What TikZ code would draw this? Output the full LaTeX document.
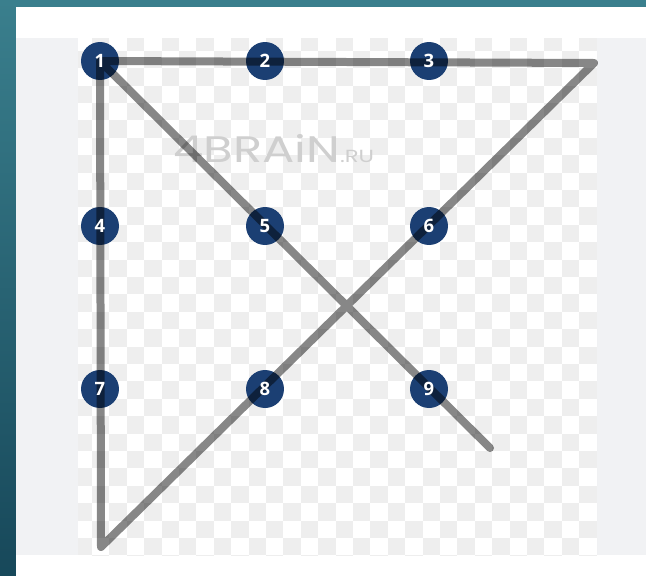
\documentclass[tikz,border=0pt]{standalone}
\usepackage{fontspec}
\setsansfont{Open Sans}
\newfontfamily\wmfont{Poppins}
\definecolor{tealtop}{HTML}{3A7F8D}
\definecolor{tealbot}{HTML}{17485A}
\definecolor{panel}{HTML}{F1F2F4}
\definecolor{check}{HTML}{EEEEEE}
\definecolor{dotblue}{HTML}{1B3F73}
\definecolor{wmgray}{HTML}{CFCFCF}
\tikzset{
  disc/.style={circle, fill=dotblue, minimum size=0.76cm, inner sep=0pt},
  digit/.style={inner sep=0pt, text=white, font=\sffamily\bfseries\fontsize{10.5}{12}\selectfont},
  stroke/.style={line width=0.16cm, draw opacity=0.47, line cap=round, line join=round}
}

\begin{document}
\begin{tikzpicture}[x=0.02cm,y=-0.02cm]

  \useasboundingbox (0,0) rectangle (646,575);
  \shade[top color=tealtop, bottom color=tealbot] (0,0) rectangle (646,575);
  \fill[white] (16,7) rectangle (647,576);
  \fill[panel] (16,38) rectangle (647,555);
  \fill[white] (78,38) rectangle (597,555);

  % checker background
  \begin{scope}
    \clip (78,38) rectangle (597,555);
    \foreach \i in {-22,...,8}
      \foreach \j in {-25,...,5} {
        \pgfmathtruncatemacro\s{\i+\j}
        \ifodd\s\else
          \fill[check] (457.3+17.4*\i,468.3+17.4*\j) rectangle ++(17.4,17.4);
        \fi
      }
  \end{scope}

  \node[anchor=base west, inner sep=0pt, text=wmgray, xscale=1.3,
    font=\wmfont\fontsize{21}{21}\selectfont] (wm) at (173,162)
    {4BRAiN{\fontsize{10}{10}\selectfont.RU}};

  \node[disc] (n1) at (100,61) {};
  \node[disc] (n2) at (265,61) {};
  \node[disc] (n3) at (429,61) {};
  \node[disc] (n4) at (100,226) {};
  \node[disc] (n5) at (265,226) {};
  \node[disc] (n6) at (429,226) {};
  \node[disc] (n7) at (100,389) {};
  \node[disc] (n8) at (265,389) {};
  \node[disc] (n9) at (429,389) {};

  \coordinate (tr) at (594,63);
  \coordinate (bl) at (101,547);
  \coordinate (tip) at (490,448);

  \draw[stroke] (n1.center) -- (tr) -- (bl) -- (n1.center) -- (tip);

  \foreach \k in {1,...,9}
    \node[digit] (d\k) at (n\k) {\k};

\end{tikzpicture}
\end{document}
